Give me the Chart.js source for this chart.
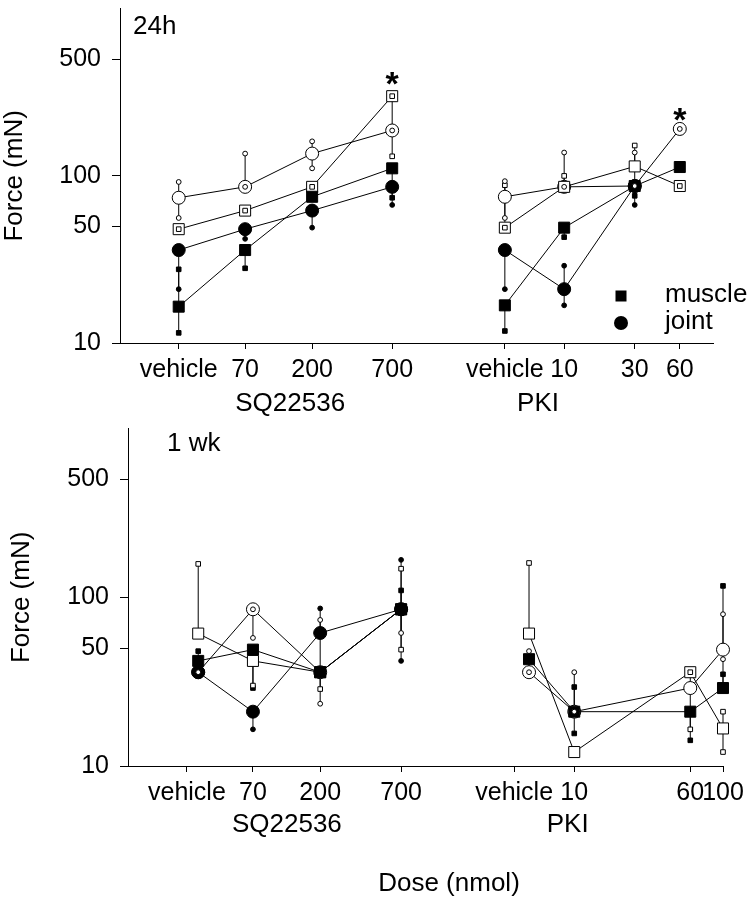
<!DOCTYPE html>
<html>
<head>
<meta charset="utf-8">
<script src="https://cdn.jsdelivr.net/npm/chart.js@4.4.1/dist/chart.umd.min.js"></script>
<style>
  body { margin: 0; background: #fff; }
  .panel { position: absolute; left: 0; width: 750px; }
  #panel-24h { top: 0; height: 420px; }
  #panel-1wk { top: 420px; height: 479px; }
</style>
</head>
<body>
<div class="panel" id="panel-24h"><canvas id="chart-24h"></canvas></div>
<div class="panel" id="panel-1wk"><canvas id="chart-1wk"></canvas></div>
<script>
const FONT = '"Liberation Sans", Arial, Helvetica, sans-serif';

const yTicks = [10, 50, 100, 500];
const groupNames = ['SQ22536', 'PKI'];

// ---- 24 h panel: SQ22536 vehicle, 70, 200, 700 | PKI vehicle, 10, 30, 60
const tickLabels24h = ['vehicle', '70', '200', '700', 'vehicle', '10', '30', '60'];
const tickPos24h = [0.99, 2.11, 3.24, 4.59, 6.49, 7.49, 8.68, 9.44];
const dose24h = [0.99, 2.11, 3.24, 4.59, 6.49, 7.49, 8.68, 9.44];
const groupCenters24h = [2.87, 7.05];

const muscle24h = [16.5, 36, 75, 111, 16.8, 49, 87, 113];
const muscleLo24h = [11.5, 28, null, 74, 11.8, 43, 76, null];
const muscleHi24h = [27.6, null, null, null, null, null, null, null];

const joint24h = [36, 48, 62, 86, 36, 21, 87, null];
const jointLo24h = [21, 42, 49, 67, 21, 16.8, 67, null];
const jointHi24h = [null, null, null, null, null, 29, null, null];

const muscleOpen24h = [48, 62, 86, 300, 49, 86, 114, 87];
const muscleOpenLo24h = [48, 62, 86, 131, 49, null, null, 87];
const muscleOpenHi24h = [null, null, null, 300, 88, 100, 152, null];

const jointOpen24h = [74, 86, 136, 187, 75, 86, 87, 191];
const jointOpenLo24h = [56, 86, 111, 187, 56, 86, 87, 191];
const jointOpenHi24h = [92, 136, 161, null, 93, 138, 138, null];

const starPos24h = [4.59, 9.44];
const starVal24h = [400, 245];

// ---- 1 wk panel: SQ22536 vehicle, 70, 200, 700 | PKI vehicle, 10, 60, 100
const tickLabels1wk = ['vehicle', '70', '200', '700', 'vehicle', '10', '60', '100'];
const tickPos1wk = [0.99, 2.10, 3.23, 4.59, 6.49, 7.50, 9.45, 10.0];
const dose1wk = [1.18, 2.10, 3.23, 4.59, 6.74, 7.50, 9.45, 10.0];
const groupCenters1wk = [2.67, 7.39];

const muscle1wk = [42, 49, 36, 85, 43, 21, 21, 29];
const muscleLo1wk = [null, 29, null, null, null, 15.6, 14.2, 35];
const muscleHi1wk = [48, null, null, 110, null, 29.4, null, 117];

const joint1wk = [36, 21, 61.5, 85, null, null, null, null];
const jointLo1wk = [null, 16.5, null, 42, null, null, null, null];
const jointHi1wk = [null, null, 86, 167, null, null, null, null];

const muscleOpen1wk = [61, 42, 36, 85, 61, 12.1, 36, 16.7];
const muscleOpenLo1wk = [null, 30, 28.6, 49, null, null, 16.5, 12.1];
const muscleOpenHi1wk = [158, null, null, 148, 160, null, 36, 21];

const jointOpen1wk = [36, 85, 36, 85, 36, 21, 29, 49];
const jointOpenLo1wk = [36, 57.5, 23.4, 61.5, 36, 21, null, 43];
const jointOpenHi1wk = [null, 85, 73.5, null, 48, 36, null, 79.5];


function buildDatasets(x, series) {
    const out = [];
    series.forEach(s => {
        [[0, 4], [4, 8]].forEach(([a, b]) => {
            const pts = [];
            for (let i = a; i < b; i++) {
                if (s.values[i] == null) continue;
                pts.push({ x: x[i], y: s.values[i], lo: s.lo[i], hi: s.hi[i] });
            }
            out.push({
                data: pts,
                showLine: true,
                clip: false,
                borderColor: '#000',
                borderWidth: 1,
                pointStyle: s.shape,
                pointRadius: s.shape === 'rect' ? 7.8 : 6.5,
                pointBackgroundColor: s.filled ? '#000' : '#fff',
                pointBorderColor: '#000',
                pointBorderWidth: 1,
                markShape: s.shape,
                markFilled: s.filled
            });
        });
    });
    return out;
}


function smallMark(ctx, shape, filled, x, y) {
    ctx.beginPath();
    if (shape === 'rect') {
        ctx.rect(x - 2.3, y - 2.3, 4.6, 4.6);
    } else {
        ctx.arc(x, y, 2.4, 0, Math.PI * 2);
    }
    ctx.fillStyle = filled ? '#000' : '#fff';
    ctx.fill();
    ctx.stroke();
}


const errorBars = {
    id: 'errorBars',
    beforeDatasetsDraw(chart) {
        const ctx = chart.ctx;
        const y = chart.scales.y;
        ctx.save();
        ctx.strokeStyle = '#000';
        ctx.lineWidth = 1;
        chart.data.datasets.forEach((ds, i) => {
            const meta = chart.getDatasetMeta(i);
            meta.data.forEach((pt, j) => {
                const raw = ds.data[j];
                [raw.lo, raw.hi].forEach(e => {
                    if (e == null) return;
                    ctx.beginPath();
                    ctx.moveTo(pt.x, pt.y);
                    ctx.lineTo(pt.x, y.getPixelForValue(e));
                    ctx.stroke();
                });
            });
        });
        ctx.restore();
    },
    afterDatasetsDraw(chart) {
        const ctx = chart.ctx;
        const y = chart.scales.y;
        ctx.save();
        ctx.strokeStyle = '#000';
        ctx.lineWidth = 1;
        chart.data.datasets.forEach((ds, i) => {
            const meta = chart.getDatasetMeta(i);
            meta.data.forEach((pt, j) => {
                const raw = ds.data[j];
                [raw.lo, raw.hi].forEach(e => {
                    if (e == null) return;
                    smallMark(ctx, ds.markShape, ds.markFilled, pt.x, y.getPixelForValue(e));
                });
            });
        });
        ctx.restore();
    }
};


const panelDecor = {
    id: 'panelDecor',
    afterDraw(chart, args, opts) {
        const ctx = chart.ctx;
        const area = chart.chartArea;
        const xs = chart.scales.x;
        const ys = chart.scales.y;
        ctx.save();
        ctx.fillStyle = '#000';

        // panel label
        ctx.font = '26px ' + FONT;
        ctx.textAlign = 'left';
        ctx.textBaseline = 'middle';
        ctx.fillText(opts.label, opts.labelX, opts.labelY);

        // y title
        ctx.save();
        ctx.translate(opts.yTitleX, (area.top + area.bottom) / 2);
        ctx.rotate(-Math.PI / 2);
        ctx.textAlign = 'center';
        ctx.fillText('Force (mN)', 0, 0);
        ctx.restore();

        // drug group names under the dose ticks
        ctx.textAlign = 'center';
        groupNames.forEach((name, i) => {
            ctx.fillText(name, xs.getPixelForValue(opts.groupCenters[i]), opts.groupY);
        });

        // significance stars
        if (opts.starPos) {
            ctx.font = 'bold 34px ' + FONT;
            ctx.textBaseline = 'alphabetic';
            opts.starPos.forEach((p, i) => {
                ctx.fillText('*', xs.getPixelForValue(p), ys.getPixelForValue(opts.starVal[i]) + 20);
            });
        }

        // legend
        if (opts.legend) {
            ctx.fillRect(621 - 5.5, 296 - 5.5, 11, 11);
            ctx.beginPath();
            ctx.arc(621, 323, 7, 0, Math.PI * 2);
            ctx.fill();
            ctx.font = '26px ' + FONT;
            ctx.textAlign = 'left';
            ctx.textBaseline = 'alphabetic';
            ctx.fillText('muscle', 665, 302);
            ctx.fillText('joint', 665, 329);
        }

        if (opts.xTitle) {
            ctx.font = '26px ' + FONT;
            ctx.textAlign = 'center';
            ctx.textBaseline = 'middle';
            ctx.fillText(opts.xTitle, opts.xTitleX, opts.xTitleY);
        }
        ctx.restore();
    }
};


function makeChart(canvasId, cfg) {
    const series = [
        { values: cfg.muscle, lo: cfg.muscleLo, hi: cfg.muscleHi, shape: 'rect', filled: true },
        { values: cfg.joint, lo: cfg.jointLo, hi: cfg.jointHi, shape: 'circle', filled: true },
        { values: cfg.muscleOpen, lo: cfg.muscleOpenLo, hi: cfg.muscleOpenHi, shape: 'rect', filled: false },
        { values: cfg.jointOpen, lo: cfg.jointOpenLo, hi: cfg.jointOpenHi, shape: 'circle', filled: false }
    ];

    return new Chart(document.getElementById(canvasId), {
        type: 'scatter',
        data: { datasets: buildDatasets(cfg.dose, series) },
        plugins: [errorBars, panelDecor],
        options: {
            responsive: true,
            maintainAspectRatio: false,
            animation: false,
            events: [],
            layout: { padding: cfg.padding },
            plugins: {
                legend: { display: false },
                tooltip: { enabled: false },
                panelDecor: cfg.decor
            },
            scales: {
                x: {
                    type: 'linear',
                    min: 0,
                    max: 10,
                    grid: { drawOnChartArea: false, color: '#000', tickLength: 6 },
                    border: { color: '#000', width: 1 },
                    ticks: {
                        color: '#000',
                        font: { family: FONT, size: 25 },
                        padding: 6,
                        autoSkip: false,
                        maxRotation: 0,
                        minRotation: 0,
                        callback: (v, i) => cfg.tickLabels[i]
                    },
                    afterBuildTicks: scale => {
                        scale.ticks = cfg.tickPos.map(v => ({ value: v }));
                    },
                    afterFit: scale => {
                        scale.height = cfg.xAxisHeight;
                        scale.paddingLeft = 0;
                        scale.paddingRight = 0;
                    }
                },
                y: {
                    type: 'logarithmic',
                    min: 10,
                    max: 1000,
                    grid: { drawOnChartArea: false, color: '#000', tickLength: 8 },
                    border: { color: '#000', width: 1 },
                    ticks: {
                        color: '#000',
                        font: { family: FONT, size: 25 },
                        padding: 11,
                        callback: v => String(v)
                    },
                    afterBuildTicks: scale => {
                        scale.ticks = yTicks.map(v => ({ value: v }));
                    },
                    afterFit: scale => {
                        scale.width = cfg.yAxisWidth;
                        scale.paddingTop = 0;
                        scale.paddingBottom = 0;
                    }
                }
            }
        }
    });
}


makeChart('chart-24h', {
    dose: dose24h,
    tickPos: tickPos24h,
    tickLabels: tickLabels24h,
    muscle: muscle24h, muscleLo: muscleLo24h, muscleHi: muscleHi24h,
    joint: joint24h, jointLo: jointLo24h, jointHi: jointHi24h,
    muscleOpen: muscleOpen24h, muscleOpenLo: muscleOpenLo24h, muscleOpenHi: muscleOpenHi24h,
    jointOpen: jointOpen24h, jointOpenLo: jointOpenLo24h, jointOpenHi: jointOpenHi24h,
    padding: { left: 0, right: 37, top: 3, bottom: 0 },
    xAxisHeight: 77,
    yAxisWidth: 120,
    decor: {
        label: '24h', labelX: 133, labelY: 27,
        yTitleX: 15,
        groupCenters: groupCenters24h, groupY: 404,
        starPos: starPos24h, starVal: starVal24h,
        legend: true
    }
});

makeChart('chart-1wk', {
    dose: dose1wk,
    tickPos: tickPos1wk,
    tickLabels: tickLabels1wk,
    muscle: muscle1wk, muscleLo: muscleLo1wk, muscleHi: muscleHi1wk,
    joint: joint1wk, jointLo: jointLo1wk, jointHi: jointHi1wk,
    muscleOpen: muscleOpen1wk, muscleOpenLo: muscleOpenLo1wk, muscleOpenHi: muscleOpenHi1wk,
    jointOpen: jointOpen1wk, jointOpenLo: jointOpenLo1wk, jointOpenHi: jointOpenHi1wk,
    padding: { left: 0, right: 27, top: 4, bottom: 0 },
    xAxisHeight: 133,
    yAxisWidth: 128,
    decor: {
        label: '1 wk', labelX: 167, labelY: 24,
        yTitleX: 22,
        groupCenters: groupCenters1wk, groupY: 405,
        xTitle: 'Dose (nmol)', xTitleX: 449, xTitleY: 464
    }
});
</script>
</body>
</html>
